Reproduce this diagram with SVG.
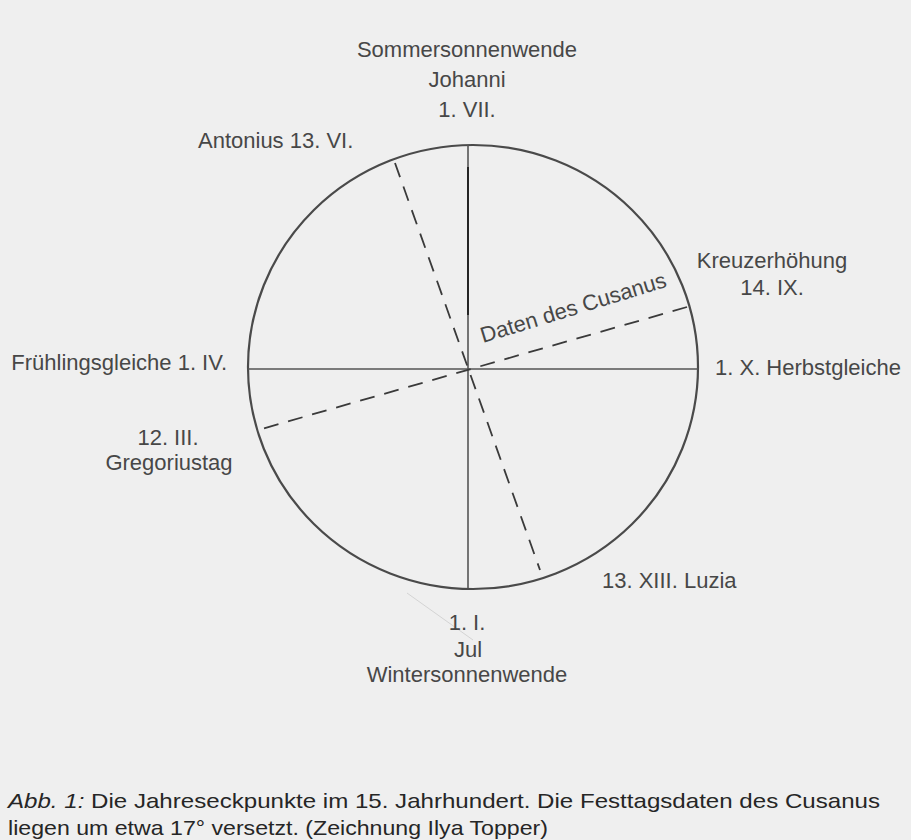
<svg xmlns="http://www.w3.org/2000/svg" width="911" height="840" viewBox="0 0 911 840">
  <style>
    .lbl { font-family: "Liberation Sans", Arial, sans-serif; font-size: 22px; fill: #474747; }
    .mid { text-anchor: middle; }
    .cap { font-family: "Liberation Sans", Arial, sans-serif; font-size: 21px; fill: #262626; }
    .solid { stroke: #555; stroke-width: 1.6; fill: none; }
    .dash { stroke: #3a3a3a; stroke-width: 1.8; fill: none; stroke-dasharray: 15 10; }
  </style>
  <rect x="0" y="0" width="911" height="840" fill="#efefef"/>

  <g id="circle">
    <ellipse cx="473" cy="367" rx="225" ry="222" fill="none" stroke="#4a4a4a" stroke-width="2.2"/>
  </g>

  <g id="connectors">
    <line class="solid" x1="468" y1="145" x2="468" y2="588"/>
    <line x1="468" y1="167" x2="468" y2="315" stroke="#111" stroke-width="1.6"/>
    <line class="solid" x1="248" y1="369" x2="698" y2="369"/>
    <line class="dash" x1="395" y1="163" x2="540" y2="570"/>
    <line class="dash" x1="687" y1="307" x2="258" y2="430"/>
    <line x1="407" y1="593" x2="473" y2="640" stroke="#d4d4d4" stroke-width="1"/>
  </g>

  <g id="sommer">
    <text class="lbl mid" x="467" y="57">Sommersonnenwende</text>
    <text class="lbl mid" x="467" y="87">Johanni</text>
    <text class="lbl mid" x="467" y="117">1. VII.</text>
  </g>
  <g id="antonius">
    <text class="lbl" x="198" y="148">Antonius 13. VI.</text>
  </g>
  <g id="kreuz">
    <text class="lbl mid" x="772" y="268">Kreuzerhöhung</text>
    <text class="lbl mid" x="772" y="295">14. IX.</text>
  </g>
  <g id="cusanus">
    <text class="lbl" x="483" y="343" transform="rotate(-17 483 343)">Daten des Cusanus</text>
  </g>
  <g id="fruehling">
    <text class="lbl" x="227" y="370" text-anchor="end">Frühlingsgleiche 1. IV.</text>
  </g>
  <g id="herbst">
    <text class="lbl" x="715" y="375">1. X. Herbstgleiche</text>
  </g>
  <g id="gregor">
    <text class="lbl mid" x="168" y="445">12. III.</text>
    <text class="lbl mid" x="169" y="470">Gregoriustag</text>
  </g>
  <g id="luzia">
    <text class="lbl" x="602" y="588">13. XIII. Luzia</text>
  </g>
  <g id="winter">
    <text class="lbl mid" x="467" y="630">1. I.</text>
    <text class="lbl mid" x="468" y="657">Jul</text>
    <text class="lbl mid" x="467" y="682">Wintersonnenwende</text>
  </g>

  <g id="caption">
    <text class="cap" x="8" y="808" textLength="872" lengthAdjust="spacingAndGlyphs"><tspan font-style="italic">Abb. 1:</tspan> Die Jahreseckpunkte im 15. Jahrhundert. Die Festtagsdaten des Cusanus</text>
    <text class="cap" x="8" y="835" textLength="540" lengthAdjust="spacingAndGlyphs">liegen um etwa 17° versetzt. (Zeichnung Ilya Topper)</text>
  </g>
</svg>
